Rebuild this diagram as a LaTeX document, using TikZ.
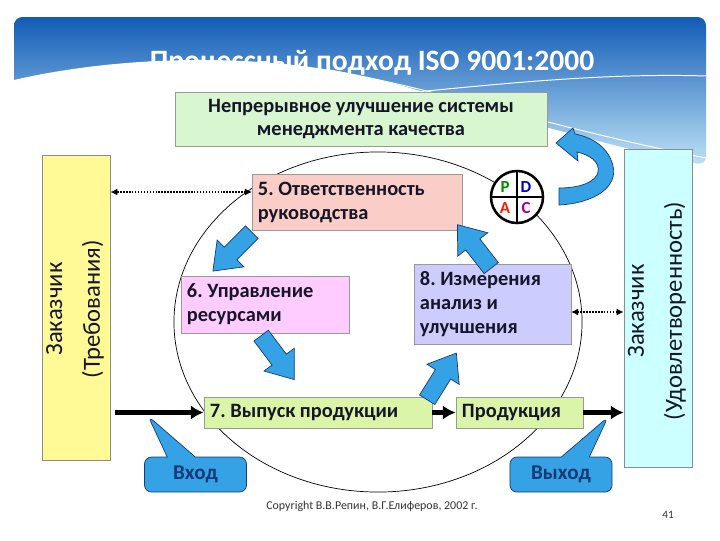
\documentclass[tikz,border=0pt]{standalone}
\usepackage{fontspec}
\setmainfont{Carlito}
\frenchspacing
\usetikzlibrary{arrows.meta,shapes.callouts}

\definecolor{bandtop}{RGB}{18,92,182}
\definecolor{bandbot}{RGB}{190,226,246}
\definecolor{arrblue}{RGB}{52,162,228}
\definecolor{arredge}{RGB}{22,58,118}
\definecolor{mint}{RGB}{216,246,208}
\definecolor{limegreen}{RGB}{218,245,168}
\definecolor{salmon}{RGB}{250,206,198}
\definecolor{lightpink}{RGB}{255,204,255}
\definecolor{lavender}{RGB}{204,204,255}
\definecolor{custyellow}{RGB}{255,250,150}
\definecolor{custcyan}{RGB}{204,255,255}
\definecolor{inktext}{RGB}{22,22,40}

\tikzset{
  box/.style={draw=black!40, line width=0.5pt, inner xsep=0.15cm, inner ysep=0pt,
    font=\fontsize{14.5}{17}\selectfont\bfseries, text=inktext},
  custbox/.style={draw=black!45, line width=0.5pt, minimum width=1.7cm},
  custtext/.style={rotate=90, align=center, font=\fontsize{17.5}{27}\selectfont, text=inktext},
  thickarr/.style={line width=3pt, -{Latex[length=9pt,width=10pt]}},
  dotarr/.style={densely dotted, line width=1.1pt, {Latex[length=5pt,width=5pt]}-{Latex[length=5pt,width=5pt]}},
  bluefill/.style={fill=arrblue, draw=arredge, line width=0.5pt},
  fatarrow/.pic={\filldraw[bluefill] (-28,-9) -- (2,-9) -- (2,-19) -- (27,0) -- (2,19) -- (2,9) -- (-28,9) -- cycle;},
  bubble/.style={rectangle callout, rounded corners=5pt, fill=arrblue, draw=arredge, line width=0.5pt,
    minimum width=2.55cm, minimum height=0.875cm, callout pointer width=0.7cm,
    font=\fontsize{15}{18}\selectfont\bfseries, text=arredge},
  pdcal/.style={font=\fontsize{12}{12}\selectfont\bfseries, inner sep=0pt}
}

\begin{document}
\begin{tikzpicture}[x=0.025cm,y=-0.025cm]
  \useasboundingbox (0,0) rectangle (720,540);

  \shade[top color=bandtop, bottom color=bandbot, rounded corners=6pt] (14,100) -- (14,17) -- (706,17) -- (706,165) [sharp corners] .. controls (620,150) and (560,128) .. (480,112) .. controls (400,96) and (200,90) .. (14,100);
  \fill[white] (14,80) .. controls (100,60) and (220,52) .. (330,70) .. controls (420,86) and (470,105) .. (530,142) -- (14,142) -- cycle;
  \draw[white, line width=0.7pt] (330,70) .. controls (450,92) and (560,130) .. (706,158);
  \draw[white, line width=0.7pt] (330,100) .. controls (450,90) and (580,72) .. (706,76);
  \node[font=\fontsize{21}{25}\selectfont\bfseries, text=white] (title) at (372,63) {Процессный подход ISO 9001:2000};

  \draw[line width=0.5pt] (378,322) ellipse [x radius=5.1cm, y radius=4.25cm];

  \node[box, fill=mint, minimum width=9.3cm, minimum height=1.35cm, align=center] (kaizen) at (361,119) {Непрерывное улучшение системы\\менеджмента качества};
  \node[custbox, fill=custyellow, minimum height=7.625cm] (cust1) at (76,307.5) {};
  \node[custtext] (cust1txt) at (75,309) {Заказчик\\(Требования)};
  \node[custbox, fill=custcyan, minimum height=7.95cm] (cust2) at (658,308) {};
  \node[custtext] (cust2txt) at (657,311) {Заказчик\\(Удовлетворенность)};

  \node[box, fill=salmon, minimum width=5.25cm, minimum height=1.4cm, text width=4.95cm, align=flush left] (b5) at (357,202) {5. Ответственность\\руководства};
  \node[box, fill=lightpink, minimum width=4.2cm, minimum height=1.425cm, text width=3.9cm, align=flush left] (b6) at (265,304.5) {6. Управление\\ресурсами};
  \node[box, fill=lavender, minimum width=3.925cm, minimum height=2cm, text width=3.625cm, align=flush left] (b8) at (492.5,304) {8. Измерения\\анализ и\\улучшения};
  \node[box, fill=limegreen, minimum width=5.7cm, minimum height=0.775cm, text width=5.4cm, align=flush left] (b7) at (318,412.5) {7. Выпуск продукции};
  \node[box, fill=limegreen, minimum width=3.175cm, minimum height=0.775cm, text width=2.875cm, align=flush left] (prod) at (519.5,412.5) {Продукция};

  \node[draw, circle, line width=1.8pt, fill=white, minimum size=1.3cm, inner sep=0pt] (pdca) at (517,197) {};
  \draw[line width=1.5pt] (pdca.north) -- (pdca.south) (pdca.west) -- (pdca.east);
  \node[pdcal, text=green!55!black] (pp) at (505,187) {P};
  \node[pdcal, text=blue!75!black] (pd) at (526,187) {D};
  \node[pdcal, text=red!80!orange] (pa) at (505,208) {A};
  \node[pdcal, text=violet!80!magenta] (pc) at (526,208) {C};

  \filldraw[bluefill] (559,205) .. controls (596,203) and (618,186) .. (613,166) .. controls (609,149) and (595,138) .. (575,134) -- (573,128) -- (556,143) -- (578,161) -- (577,152) .. controls (590,155) and (600,162) .. (598,172) .. controls (596,182) and (580,188) .. (559,188) -- cycle;

  \pic[rotate=225] at (232,252) {fatarrow};
  \pic[rotate=-53] at (278,358) {fatarrow};
  \pic[rotate=58] at (442,376) {fatarrow};
  \pic[rotate=128] at (474,246) {fatarrow};

  \coordinate (d5) at (252,192); \coordinate (d8) at (571,312);
  \draw[dotarr] (d5) -- (d5 -| cust1.east);
  \draw[dotarr] (d8) -- (d8 -| cust2.west);
  \draw[thickarr, shorten <=3pt] (b7.west -| cust1.east) -- (b7.west);
  \draw[thickarr] (b7) -- (prod);
  \draw[thickarr] (prod.east) -- (prod.east -| cust2.west);

  \node[bubble, callout absolute pointer={(148,416)}] (vhod) at (195.5,474.5) {Вход};
  \node[bubble, callout absolute pointer={(608,417)}] (vyhod) at (561,474.5) {Выход};

  \node[font=\fontsize{8.5}{10}\selectfont, text=black!80] (copy) at (372,506) {Copyright В.В.Репин, В.Г.Елиферов, 2002 г.};
  \node[font=\fontsize{8}{10}\selectfont, text=black!80] (pageno) at (668,515) {41};
\end{tikzpicture}
\end{document}
